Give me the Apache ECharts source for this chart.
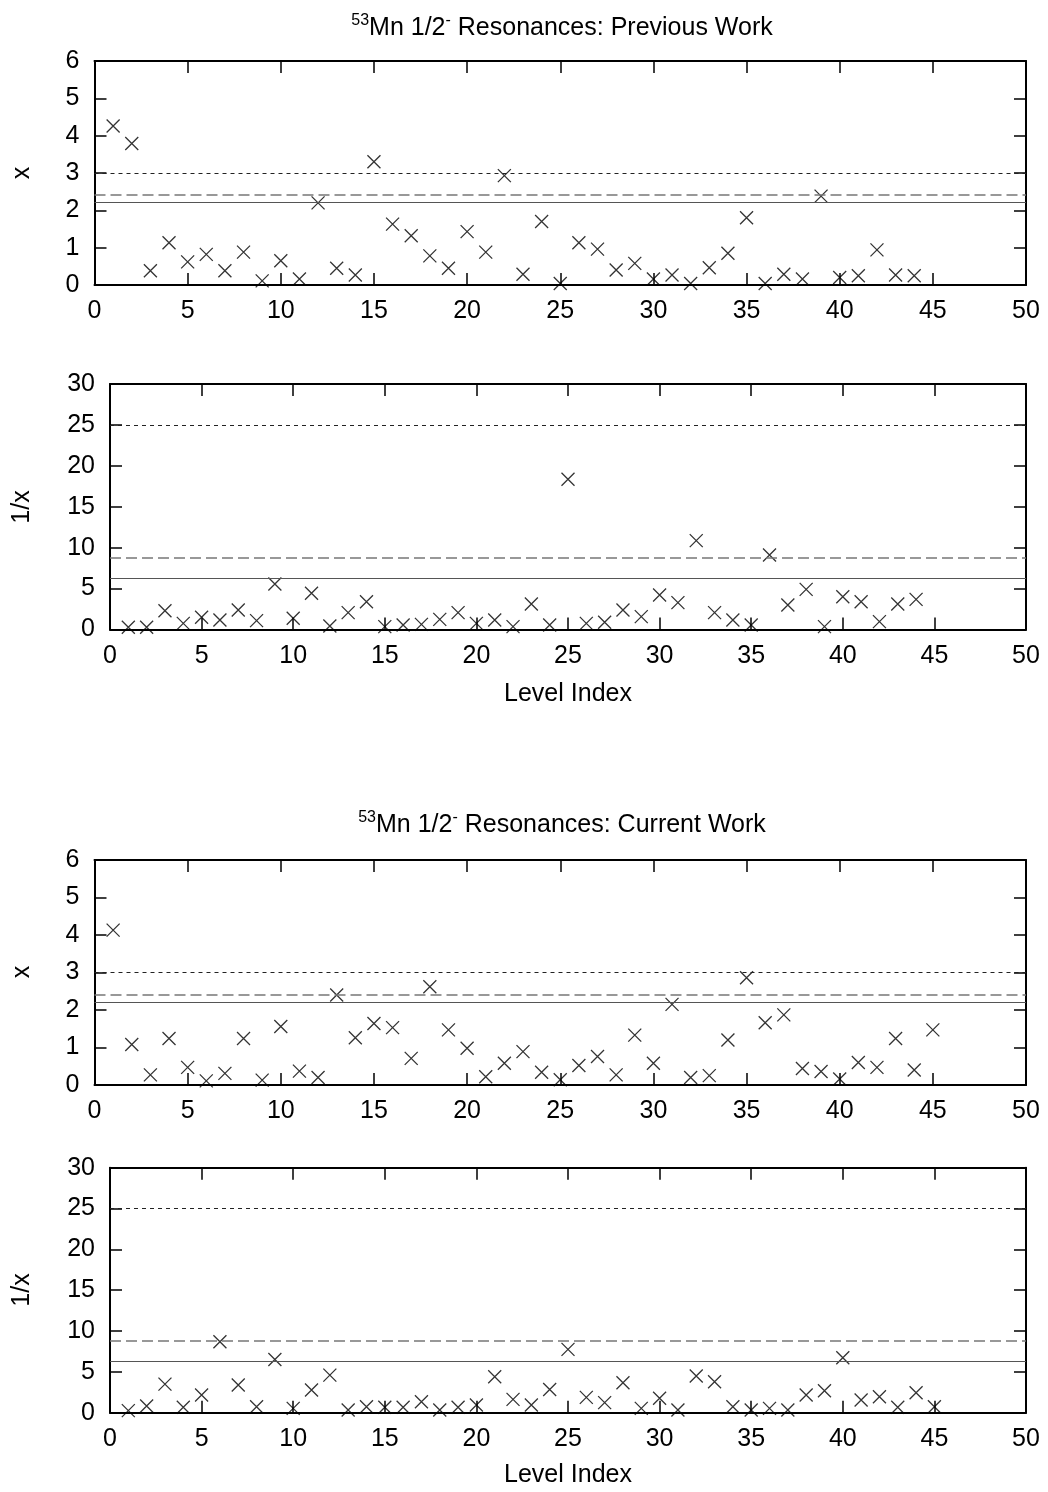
<!DOCTYPE html>
<html>
<head>
<meta charset="utf-8">
<script src="https://cdn.jsdelivr.net/npm/echarts@6/dist/echarts.min.js"></script>
<style>
  html, body { margin: 0; padding: 0; background: #fff; }
  #chart { width: 1048px; height: 1492px; }
</style>
</head>
<body>
<div id="chart"></div>
<script>
// 53Mn 1/2- resonances: reduced-width ratio x and its inverse, per level index

// Previous work (levels 1..44)
const prevX = [4.26, 3.79, 0.38, 1.13, 0.62, 0.82, 0.38, 0.88, 0.11, 0.65,
               0.16, 2.20, 0.45, 0.27, 3.30, 1.63, 1.32, 0.78, 0.45, 1.43,
               0.88, 2.93, 0.29, 1.70, 0.04, 1.13, 0.96, 0.40, 0.58, 0.16,
               0.27, 0.04, 0.46, 0.85, 1.80, 0.04, 0.29, 0.16, 2.38, 0.20,
               0.25, 0.94, 0.27, 0.25];
const prevInvX = [0.27, 0.27, 2.30, 0.75, 1.50, 1.16, 2.38, 1.08, 5.56, 1.37,
                  4.42, 0.43, 2.06, 3.40, 0.35, 0.55, 0.63, 1.24, 2.06, 0.75,
                  1.16, 0.35, 3.11, 0.55, 18.36, 0.75, 0.88, 2.38, 1.57, 4.22,
                  3.28, 10.86, 2.06, 1.16, 0.55, 9.10, 3.00, 4.90, 0.35, 4.00,
                  3.40, 0.96, 3.11, 3.68];

// Current work (levels 1..45)
const curX = [4.13, 1.08, 0.27, 1.24, 0.47, 0.11, 0.31, 1.24, 0.13, 1.56,
              0.37, 0.20, 2.40, 1.26, 1.64, 1.53, 0.71, 2.62, 1.47, 0.98,
              0.22, 0.58, 0.89, 0.34, 0.14, 0.52, 0.76, 0.27, 1.33, 0.58,
              2.15, 0.20, 0.25, 1.20, 2.86, 1.66, 1.87, 0.44, 0.36, 0.16,
              0.60, 0.47, 1.24, 0.40, 1.47];
const curInvX = [0.25, 0.82, 3.50, 0.66, 2.16, 8.68, 3.39, 0.73, 6.52, 0.53,
                 2.77, 4.60, 0.33, 0.73, 0.66, 0.66, 1.35, 0.33, 0.66, 0.94,
                 4.40, 1.63, 0.94, 2.85, 7.75, 1.88, 1.23, 3.67, 0.53, 1.76,
                 0.33, 4.49, 3.79, 0.73, 0.33, 0.53, 0.33, 2.16, 2.69, 6.72,
                 1.55, 1.96, 0.66, 2.45, 0.73];

// Reference levels: [dotted, dashed, solid]
const xRefLevels = [3.0, 2.41, 2.21];
const invRefLevels = [25, 8.8, 6.24];

// Axis ranges
const xRange = { min: 0, max: 50, interval: 5 };
const xPanelRange = { min: 0, max: 6, interval: 1 };
const invPanelRange = { min: 0, max: 30, interval: 5 };

const FONT = '"Liberation Sans", Arial, Helvetica, sans-serif';
const FS = 25;

const panels = [
  { grid: { left: 94.5, top: 61, width: 931.5, height: 224 }, values: prevX, y: xPanelRange, refs: xRefLevels },
  { grid: { left: 110, top: 384, width: 916, height: 245.5 }, values: prevInvX, y: invPanelRange, refs: invRefLevels },
  { grid: { left: 94.5, top: 860, width: 931.5, height: 225 }, values: curX, y: xPanelRange, refs: xRefLevels },
  { grid: { left: 110, top: 1167.7, width: 916, height: 245 }, values: curInvX, y: invPanelRange, refs: invRefLevels }
];

const refStyles = [
  { type: [4, 4], color: '#222', width: 1 },
  { type: [11, 5], color: '#777', width: 1.5 },
  { type: 'solid', color: '#555', width: 1.2 }
];

const axisLine = { show: true, onZero: false, lineStyle: { color: '#000', width: 2 } };
const axisTick = { show: true, inside: true, length: 12, lineStyle: { color: '#000', width: 1.5 } };
const labelStyle = { color: '#000', fontSize: FS, fontFamily: FONT };

const grid = [], xAxis = [], yAxis = [], series = [];
panels.forEach((p, i) => {
  grid.push(Object.assign({ containLabel: false }, p.grid));
  xAxis.push({ type: 'value', gridIndex: i, position: 'bottom', min: xRange.min, max: xRange.max, interval: xRange.interval,
    axisLine, axisTick, splitLine: { show: false }, axisLabel: Object.assign({ margin: 14 }, labelStyle) });
  xAxis.push({ type: 'value', gridIndex: i, position: 'top', min: xRange.min, max: xRange.max, interval: xRange.interval,
    axisLine, axisTick, splitLine: { show: false }, axisLabel: { show: false } });
  yAxis.push({ type: 'value', gridIndex: i, position: 'left', min: p.y.min, max: p.y.max, interval: p.y.interval,
    axisLine, axisTick, splitLine: { show: false }, axisLabel: Object.assign({ margin: 15 }, labelStyle) });
  yAxis.push({ type: 'value', gridIndex: i, position: 'right', min: p.y.min, max: p.y.max, interval: p.y.interval,
    axisLine, axisTick, splitLine: { show: false }, axisLabel: { show: false } });
  series.push({
    type: 'scatter',
    xAxisIndex: 2 * i,
    yAxisIndex: 2 * i,
    clip: false,
    symbol: 'path://M0,0L10,10M10,0L0,10',
    symbolSize: 13,
    itemStyle: { color: 'transparent', borderColor: '#000', borderWidth: 1.3 },
    data: p.values.map((v, k) => [k + 1, v]),
    markLine: {
      silent: true,
      symbol: 'none',
      animation: false,
      label: { show: false },
      data: p.refs.map((lv, k) => ({ yAxis: lv, lineStyle: refStyles[k] }))
    }
  });
});

const titleRich = {
  n: { fontSize: FS, fontFamily: FONT, fill: '#000', lineHeight: 30 },
  sup: { fontSize: 16, fontFamily: FONT, fill: '#000', verticalAlign: 'top', lineHeight: 18 }
};
function titleText(x, y, label) {
  return {
    type: 'text', x, y,
    style: {
      text: '{sup|53}{n|Mn 1/2}{sup|-}{n| Resonances: ' + label + '}',
      rich: titleRich, align: 'center', verticalAlign: 'middle', fill: '#000', font: FS + 'px ' + FONT
    }
  };
}
function plainText(x, y, text, rotated) {
  return {
    type: 'text', x, y, rotation: rotated ? Math.PI / 2 : 0,
    style: { text, fill: '#000', font: FS + 'px ' + FONT, align: 'center', verticalAlign: 'middle' }
  };
}

const option = {
  animation: false,
  backgroundColor: '#fff',
  grid, xAxis, yAxis, series,
  graphic: [
    titleText(562, 28, 'Previous Work'),
    titleText(562, 825, 'Current Work'),
    plainText(22, 173, 'x', true),
    plainText(22, 507, '1/x', true),
    plainText(568, 694, 'Level Index', false),
    plainText(22, 972, 'x', true),
    plainText(22, 1290, '1/x', true),
    plainText(568, 1475, 'Level Index', false)
  ]
};

const chart = echarts.init(document.getElementById('chart'), null, { renderer: 'canvas' });
chart.setOption(option);
</script>
</body>
</html>
